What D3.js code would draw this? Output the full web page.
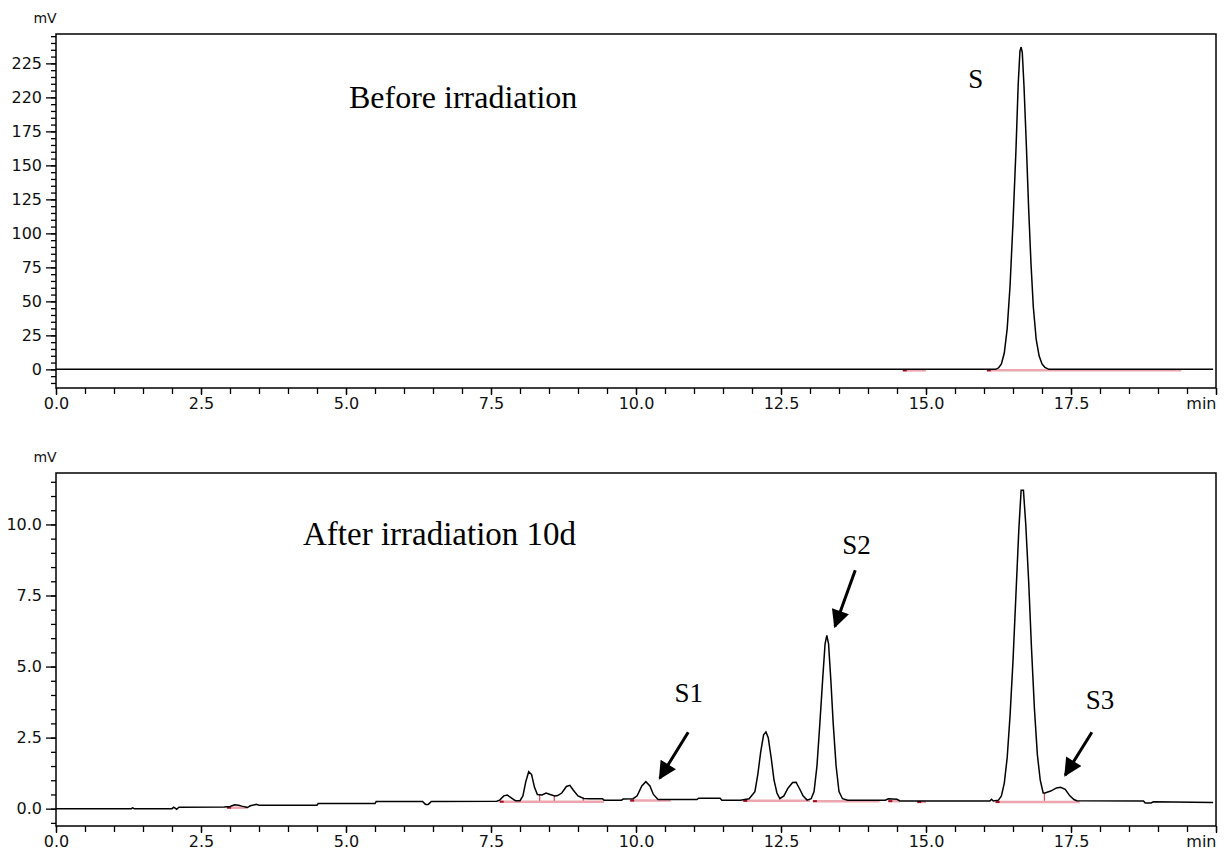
<!DOCTYPE html>
<html>
<head>
<meta charset="utf-8">
<script src="https://cdn.jsdelivr.net/npm/d3@7"></script>
<style>
  html, body { margin: 0; padding: 0; background: #fff; }
  svg { display: block; }
  .tick-label { font-family: "DejaVu Sans", sans-serif; font-size: 16px; fill: #111; }
  .note { font-family: "Liberation Serif", "Times New Roman", serif; fill: #000; }
</style>
</head>
<body>
<div id="chart"></div>
<script>
// -----------------------------
// Data (time in min, signal in mV)
// -----------------------------
const beforeTime = [0, 12.5, 16.2, 16.25, 16.3, 16.35, 16.4, 16.45, 16.5, 16.55, 16.59, 16.62, 16.64, 16.66, 16.69, 16.73, 16.77, 16.81, 16.85, 16.9, 16.95, 17.0, 17.05, 17.12, 19.95];
const beforeSignal = [0, 0, 0, 1, 4, 12, 30, 62, 108, 160, 210, 234, 237, 233, 208, 165, 118, 78, 46, 22, 10, 4, 1.5, 0, 0];

const afterTime = [
  0, 1.3, 1.32, 1.35, 2.0, 2.03, 2.08, 2.12, 2.9, 3.0, 3.08, 3.15, 3.2, 3.3, 3.35, 3.45, 3.5, 4.5, 4.52, 5.5, 5.52, 6.32, 6.37, 6.42, 6.47, 7.6,
  7.65, 7.72, 7.78, 7.85, 7.92, 8.0, 8.05, 8.1, 8.15, 8.2, 8.25, 8.3, 8.38, 8.45, 8.52, 8.6, 8.65, 8.72, 8.8, 8.86, 8.92, 9.0, 9.1, 9.2, 9.42, 9.45, 9.75, 9.78,
  9.95, 10.02, 10.1, 10.17, 10.24, 10.3, 10.38, 11.05, 11.08, 11.45, 11.48, 11.8,
  11.95, 12.05, 12.1, 12.15, 12.2, 12.24, 12.28, 12.33, 12.38, 12.43, 12.48, 12.55, 12.62, 12.7, 12.76, 12.82, 12.88, 12.95, 13.02,
  13.07, 13.12, 13.17, 13.22, 13.26, 13.29, 13.32, 13.36, 13.4, 13.45, 13.5, 13.56, 13.65, 14.3, 14.35, 14.5, 14.55, 16.1, 16.13, 16.16,
  16.25, 16.3, 16.35, 16.4, 16.45, 16.5, 16.55, 16.6, 16.64, 16.68, 16.72, 16.77, 16.82, 16.87, 16.92, 16.97, 17.02,
  17.05, 17.15, 17.25, 17.32, 17.4, 17.48, 17.55, 17.6, 18.75, 18.78, 18.88, 18.92, 19.95
];
const afterSignal = [
  0, 0, 0.03, 0, 0, 0.05, -0.02, 0.05, 0.06, 0.08, 0.14, 0.12, 0.09, 0.04, 0.1, 0.15, 0.12, 0.12, 0.18, 0.18, 0.25, 0.25, 0.15, 0.15, 0.25, 0.26,
  0.3, 0.45, 0.48, 0.38, 0.28, 0.28, 0.45, 0.95, 1.3, 1.2, 0.75, 0.5, 0.48, 0.55, 0.5, 0.45, 0.46, 0.55, 0.78, 0.82, 0.65, 0.45, 0.36, 0.35, 0.35, 0.3, 0.3, 0.34,
  0.35, 0.45, 0.8, 0.95, 0.8, 0.5, 0.32, 0.32, 0.37, 0.37, 0.3, 0.3,
  0.35, 0.6, 1.2, 2.0, 2.6, 2.7, 2.5, 1.8, 1.0, 0.55, 0.35, 0.45, 0.72, 0.92, 0.93, 0.7, 0.45, 0.3, 0.35,
  0.6, 1.5, 3.0, 4.6, 5.8, 6.1, 5.8, 4.5, 3.0, 1.5, 0.6, 0.35, 0.3, 0.3, 0.35, 0.33, 0.27, 0.27, 0.33, 0.27,
  0.3, 0.45, 0.9, 1.8, 3.3, 5.2, 7.5, 9.8, 11.2, 11.2, 10.0, 8.0, 5.6, 3.5, 1.9, 1.0, 0.55,
  0.55, 0.62, 0.73, 0.75, 0.68, 0.45, 0.32, 0.28, 0.27, 0.2, 0.2, 0.24, 0.22
];

// integration baselines (start, end, level)
const beforeBaseStart = [14.6, 16.05];
const beforeBaseEnd = [15.0, 19.4];
const beforeBaseLevel = [0, 0];
const afterBaseStart = [2.95, 7.65, 9.9, 11.85, 13.05, 14.35, 14.85, 16.2];
const afterBaseEnd = [3.3, 9.45, 10.6, 13.0, 14.2, 14.55, 15.0, 17.65];
const afterBaseLevel = [0.07, 0.28, 0.32, 0.31, 0.3, 0.3, 0.27, 0.27];
const afterDropTime = [8.0, 8.34, 8.59, 9.09, 17.04];

// axis ticks
const xMajor = [0, 2.5, 5, 7.5, 10, 12.5, 15, 17.5, 20];
const xMajorLabels = ["0.0", "2.5", "5.0", "7.5", "10.0", "12.5", "15.0", "17.5", "min"];
const beforeYMajor = [0, 25, 50, 75, 100, 125, 150, 175, 200, 225];
const beforeYLabels = ["0", "25", "50", "75", "100", "125", "150", "175", "220", "225"];
const afterYMajor = [0, 2.5, 5, 7.5, 10];
const afterYLabels = ["0.0", "2.5", "5.0", "7.5", "10.0"];

// annotations
const beforeNote = "Before irradiation";
const afterNote = "After irradiation 10d";
const peakNames = ["S1", "S2", "S3"];
const peakNameT = [10.91, 13.8, 18.0];
const peakNameV = [3.74, 8.95, 3.52];
const arrowFromT = [10.9, 13.78, 17.86];
const arrowFromV = [2.69, 8.39, 2.69];
const arrowToT = [10.41, 13.43, 17.4];
const arrowToV = [1.07, 6.41, 1.18];

// -----------------------------
// Layout
// -----------------------------
const width = 1225, height = 852;
const left = 56, right = 1216;

const svg = d3.select("#chart").append("svg")
  .attr("width", width)
  .attr("height", height);

const x = d3.scaleLinear().domain([0, 20]).range([left, right]);

function drawPanel(opt) {
  const y = d3.scaleLinear().domain(opt.yDomain).range([opt.bottom, opt.top]);
  const g = svg.append("g");

  // integration baselines (pink)
  opt.baseStart.forEach((s, i) => {
    g.append("line")
      .attr("x1", x(s)).attr("x2", x(opt.baseEnd[i]))
      .attr("y1", y(opt.baseLevel[i]) + 1).attr("y2", y(opt.baseLevel[i]) + 1)
      .attr("stroke", "#e8909c").attr("stroke-width", 2.5).attr("opacity", 0.8);
    g.append("line")
      .attr("x1", x(s)).attr("x2", x(s) + 4)
      .attr("y1", y(opt.baseLevel[i]) + 1).attr("y2", y(opt.baseLevel[i]) + 1)
      .attr("stroke", "#a01020").attr("stroke-width", 2);
  });
  (opt.drops || []).forEach(t => {
    const i = d3.bisectLeft(opt.time, t);
    const v = opt.signal[Math.min(i, opt.signal.length - 1)];
    g.append("line")
      .attr("x1", x(t)).attr("x2", x(t))
      .attr("y1", y(0.28)).attr("y2", y(v))
      .attr("stroke", "#d02030").attr("stroke-width", 1);
  });

  // trace
  const pts = opt.time.map((t, i) => [t, opt.signal[i]]);
  g.append("path")
    .datum(pts)
    .attr("fill", "none")
    .attr("stroke", "#000")
    .attr("stroke-width", 1.5)
    .attr("d", d3.line().x(d => x(d[0])).y(d => y(d[1])));

  // frame
  g.append("rect")
    .attr("x", left).attr("y", opt.top)
    .attr("width", right - left).attr("height", opt.bottom - opt.top)
    .attr("fill", "none").attr("stroke", "#000").attr("stroke-width", 1.5);

  // y axis: minor + major ticks
  const yMinorAxis = d3.axisLeft(y).tickValues(opt.yMinor).tickSize(5).tickFormat("");
  g.append("g").attr("transform", `translate(${left},0)`).call(yMinorAxis)
    .call(a => a.select(".domain").remove());
  const yMajorAxis = d3.axisLeft(y).tickValues(opt.yMajor).tickSize(10).tickPadding(4)
    .tickFormat((d, i) => opt.yLabels[i]);
  g.append("g").attr("transform", `translate(${left},0)`).call(yMajorAxis)
    .call(a => a.select(".domain").remove())
    .call(a => a.selectAll("text").attr("class", "tick-label").attr("fill", null));

  // x axis
  const xMinor = d3.range(0, 20.01, 0.5);
  const xMinorAxis = d3.axisBottom(x).tickValues(xMinor).tickSize(6).tickFormat("");
  g.append("g").attr("transform", `translate(0,${opt.bottom})`).call(xMinorAxis)
    .call(a => a.select(".domain").remove());
  const xMajorAxis = d3.axisBottom(x).tickValues(xMajor).tickSize(7).tickPadding(3)
    .tickFormat((d, i) => xMajorLabels[i]);
  g.append("g").attr("transform", `translate(0,${opt.bottom})`).call(xMajorAxis)
    .call(a => a.select(".domain").remove())
    .call(a => a.selectAll("text").attr("class", "tick-label").attr("fill", null)
      .attr("text-anchor", (d, i) => i === xMajor.length - 1 ? "end" : "middle"));

  g.selectAll(".tick line").attr("stroke", "#000").attr("stroke-width", 1.3);

  // unit label
  g.append("text")
    .attr("class", "tick-label")
    .attr("x", 45).attr("y", opt.top - 11)
    .attr("text-anchor", "middle")
    .style("font-size", "14px")
    .text("mV");

  return y;
}

// -----------------------------
// Top panel
// -----------------------------
const yTop = drawPanel({
  top: 34, bottom: 388,
  yDomain: [-13.7, 246.6],
  yMajor: beforeYMajor, yLabels: beforeYLabels,
  yMinor: d3.range(-10, 246, 5),
  time: beforeTime, signal: beforeSignal,
  baseStart: beforeBaseStart, baseEnd: beforeBaseEnd, baseLevel: beforeBaseLevel
});

svg.append("text").attr("class", "note")
  .attr("x", 349).attr("y", 108)
  .style("font-size", "32px")
  .text(beforeNote);

svg.append("text").attr("class", "note")
  .attr("x", x(15.86)).attr("y", 88)
  .attr("text-anchor", "middle")
  .style("font-size", "27px")
  .text("S");

// -----------------------------
// Bottom panel
// -----------------------------
const yBot = drawPanel({
  top: 473, bottom: 826,
  yDomain: [-0.61, 11.81],
  yMajor: afterYMajor, yLabels: afterYLabels,
  yMinor: d3.range(-0.5, 11.6, 0.5),
  time: afterTime, signal: afterSignal,
  baseStart: afterBaseStart, baseEnd: afterBaseEnd, baseLevel: afterBaseLevel,
  drops: afterDropTime
});

svg.append("text").attr("class", "note")
  .attr("x", 303).attr("y", 545)
  .style("font-size", "33px")
  .text(afterNote);

// arrow heads
svg.append("defs").append("marker")
  .attr("id", "arrow")
  .attr("viewBox", "0 0 10 10")
  .attr("refX", 9).attr("refY", 5)
  .attr("markerWidth", 7).attr("markerHeight", 6)
  .attr("markerUnits", "strokeWidth")
  .attr("orient", "auto")
  .append("path")
  .attr("d", "M0,0 L10,5 L0,10 z")
  .attr("fill", "#000");

peakNames.forEach((name, i) => {
  svg.append("text").attr("class", "note")
    .attr("x", x(peakNameT[i])).attr("y", yBot(peakNameV[i]))
    .attr("text-anchor", "middle")
    .style("font-size", "27px")
    .text(name);
  svg.append("line")
    .attr("x1", x(arrowFromT[i])).attr("y1", yBot(arrowFromV[i]))
    .attr("x2", x(arrowToT[i])).attr("y2", yBot(arrowToV[i]))
    .attr("stroke", "#000").attr("stroke-width", 3)
    .attr("marker-end", "url(#arrow)");
});
</script>
</body>
</html>
